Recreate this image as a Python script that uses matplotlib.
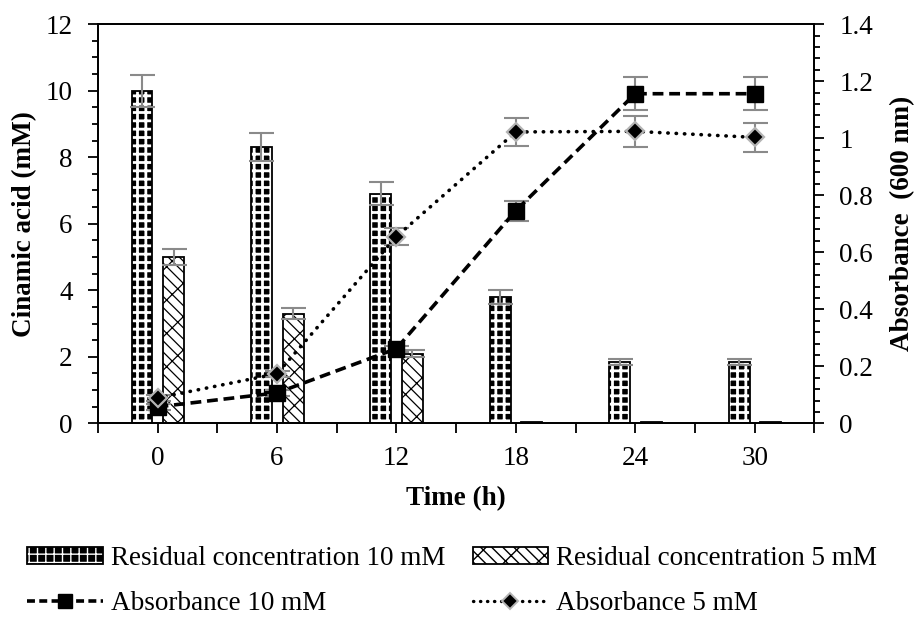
import numpy as np
import matplotlib
matplotlib.use("Agg")
import matplotlib.pyplot as plt
from matplotlib.lines import Line2D
from matplotlib.patches import Patch
from matplotlib.ticker import MultipleLocator, FixedLocator

plt.rcParams['font.family'] = ['Liberation Serif', 'DejaVu Serif']

# данные
time_labels = ['0', '6', '12', '18', '24', '30']
resid_10 = [10.0, 8.3, 6.9, 3.8, 1.85, 1.85]
resid_10_err = [0.48, 0.42, 0.35, 0.2, 0.08, 0.08]
resid_5 = [5.0, 3.3, 2.1, 0.03, 0.03, 0.03]
resid_5_err = [0.24, 0.17, 0.1, 0.0, 0.0, 0.0]
abs_10 = [0.058, 0.107, 0.262, 0.746, 1.156, 1.156]
abs_10_err = [0.01, 0.01, 0.01, 0.035, 0.057, 0.057]
abs_5 = [0.089, 0.174, 0.655, 1.022, 1.024, 1.003]
abs_5_err = [0.01, 0.01, 0.03, 0.05, 0.055, 0.05]

x = np.arange(len(time_labels))
w = 0.175
grey = '#8a8a8a'
fs = 19.5

fig = plt.figure(figsize=(9.14, 6.19), dpi=100)
ax = fig.add_axes([0.107, 0.316, 0.784, 0.645])

# 10 мМ: "шахматка" — чёрная заливка с белой сеткой, поверх чёрный контур
b10 = ax.bar(x - 0.13, resid_10, w, color='black', edgecolor='white', hatch='++', linewidth=0, zorder=2)
for p in b10:
    p.set_hatch_linewidth(2.0)
ax.bar(x - 0.13, resid_10, w, fill=False, edgecolor='black', linewidth=1.3, zorder=2)
b5 = ax.bar(x + 0.135, resid_5, w, color='white', edgecolor='black', hatch='\\\\x', linewidth=1.3, zorder=2)
for p in b5:
    p.set_hatch_linewidth(0.9)

ax.errorbar(x - 0.13, resid_10, yerr=resid_10_err, fmt='none', ecolor=grey, elinewidth=1.5, capsize=9, capthick=1.5, zorder=3)
ax.errorbar(x[:3] + 0.135, resid_5[:3], yerr=resid_5_err[:3], fmt='none', ecolor=grey, elinewidth=1.5, capsize=9, capthick=1.5, zorder=3)

ax.set_xlim(-0.5, 5.5)
ax.set_ylim(0, 12)
ax.set_xticks(x)
ax.set_xticklabels(time_labels)
ax.xaxis.set_minor_locator(FixedLocator(np.arange(-0.5, 5.6, 1.0)))
ax.yaxis.set_major_locator(MultipleLocator(2))
ax.yaxis.set_minor_locator(MultipleLocator(0.5))
ax.tick_params(axis='both', which='both', direction='out', labelsize=fs, width=1.3)
ax.tick_params(axis='x', which='both', length=7, pad=9)
ax.tick_params(axis='y', which='major', length=7, pad=11)
ax.tick_params(axis='y', which='minor', length=4)
for s in ax.spines.values():
    s.set_linewidth(1.3)
ax.set_xlabel('Time (h)', fontsize=fs, fontweight='bold', labelpad=11)
ax.set_ylabel('Cinamic acid (mM)', fontsize=fs, fontweight='bold', labelpad=6)

ax2 = ax.twinx()
ax2.errorbar(x, abs_10, yerr=abs_10_err, fmt='none', ecolor=grey, elinewidth=1.5, capsize=9, capthick=1.5, zorder=2)
ax2.errorbar(x, abs_5, yerr=abs_5_err, fmt='none', ecolor=grey, elinewidth=1.5, capsize=9, capthick=1.5, zorder=2)
ax2.plot(x, abs_10, linestyle=(0, (3, 1.6)), color='black', linewidth=2.6, marker='s',
         markersize=11.5, markerfacecolor='black', markeredgecolor='black', zorder=3)
ax2.plot(x, abs_5, linestyle=(0, (0.1, 2.2)), dash_capstyle='round', color='black', linewidth=2.6,
         marker='D', markersize=9.5, markerfacecolor='black', markeredgecolor='#b4b4b4', markeredgewidth=1.6, zorder=3)
ax2.set_ylim(0, 1.4)
ax2.yaxis.set_minor_locator(MultipleLocator(0.04))
ax2.set_yticks([0, 0.2, 0.4, 0.6, 0.8, 1.0, 1.2, 1.4])
ax2.set_yticklabels(['0', '0.2', '0.4', '0.6', '0.8', '1', '1.2', '1.4'])
ax2.tick_params(axis='y', which='both', direction='out', labelsize=fs, width=1.3)
ax2.tick_params(axis='y', which='major', length=7, pad=11)
ax2.tick_params(axis='y', which='minor', length=4)
for s in ax2.spines.values():
    s.set_linewidth(1.3)
ax2.set_ylabel('Absorbance  (600 nm)', fontsize=fs, fontweight='bold', labelpad=12)

# легенда
h1a = Patch(facecolor='black', edgecolor='white', hatch='++', linewidth=0)
h1a.set_hatch_linewidth(2.0)
h1b = Patch(fill=False, edgecolor='black', linewidth=1.3)
h2 = Patch(facecolor='white', edgecolor='black', hatch='\\\\x', linewidth=1.3)
h2.set_hatch_linewidth(0.9)
h3 = Line2D([], [], linestyle=(0, (2.2, 1.2)), color='black', linewidth=2.6, marker='s', markersize=10)
h4 = Line2D([], [], linestyle=(0, (0.1, 2.0)), dash_capstyle='round', color='black', linewidth=2.4,
            marker='D', markersize=8, markerfacecolor='black', markeredgecolor='#b4b4b4', markeredgewidth=1.4)
fig.legend([(h1a, h1b), h3, h2, h4],
           ['Residual concentration 10 mM', 'Absorbance 10 mM',
            'Residual concentration 5 mM', 'Absorbance 5 mM'],
           loc='center left', bbox_to_anchor=(27 / 914, 0.061), ncol=2, frameon=False,
           fontsize=fs, handlelength=2.8, handleheight=0.6, handletextpad=0.3, columnspacing=1.0,
           labelspacing=0.75, borderaxespad=0, borderpad=0)

fig.savefig('out.png', dpi=100)
